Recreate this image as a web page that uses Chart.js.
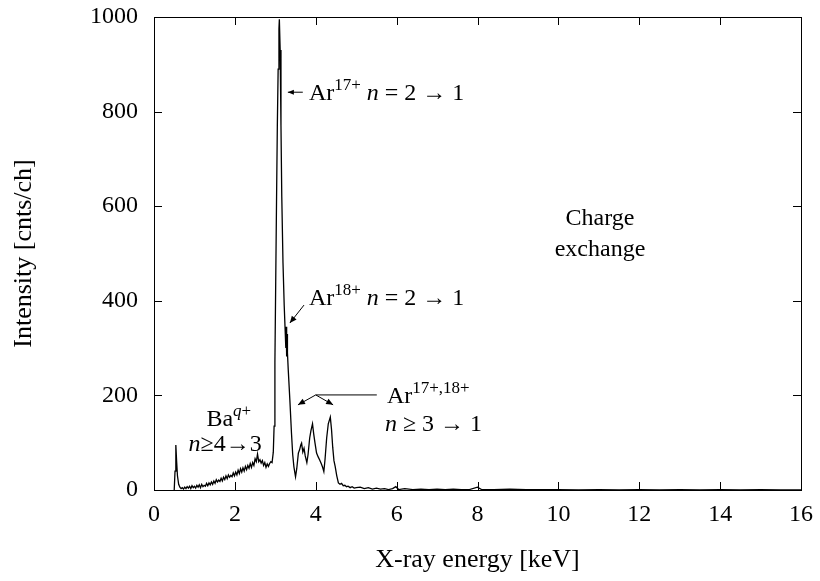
<!DOCTYPE html>
<html><head><meta charset="utf-8">
<script src="https://cdn.jsdelivr.net/npm/chart.js@4/dist/chart.umd.min.js"></script>
<style>html,body{margin:0;padding:0;background:#fff}</style>
</head><body>
<canvas id="c" width="820" height="581" style="display:block;width:820px;height:581px"></canvas>
<script>
// X-ray energy [keV]
const energyKeV = [
0.50,0.52,0.54,0.56,0.58,0.61,0.64,0.67,0.70,0.73,0.76,0.79,0.82,0.85,0.88,0.91,0.94,0.97,
1.00,1.03,1.06,1.09,1.12,1.15,1.18,1.21,1.24,1.27,1.30,1.33,1.36,1.39,1.42,1.45,1.48,
1.51,1.54,1.57,1.60,1.63,1.66,1.69,1.72,1.75,1.78,1.81,1.84,1.87,1.90,1.93,1.96,1.99,
2.02,2.05,2.08,2.11,2.14,2.17,2.20,2.23,2.26,2.29,2.32,2.35,2.38,2.41,2.44,2.47,2.50,
2.53,2.56,2.59,2.62,2.65,2.68,2.71,2.74,2.77,2.80,2.83,2.86,2.89,2.92,2.95,2.97,2.99,
3.01,3.03,3.05,3.07,3.09,3.10,3.12,3.14,3.16,3.19,3.22,3.24,3.26,3.27,3.28,3.29,3.30,
3.32,3.36,3.40,3.43,3.46,3.50,3.53,3.57,3.60,3.63,3.65,3.68,3.71,3.74,3.78,3.81,3.85,
3.88,3.92,3.95,3.98,4.02,4.06,4.10,4.14,4.17,4.20,4.23,4.27,4.31,4.36,4.39,4.42,4.45,
4.48,4.52,4.56,4.60,4.64,4.68,4.72,4.76,4.80,4.85,4.90,4.95,5.00,5.10,5.20,5.30,5.40,
5.50,5.60,5.70,5.80,5.90,5.98,6.05,6.20,6.40,6.60,6.80,7.00,7.20,7.40,7.60,7.80,8.00,
8.10,8.40,8.80,9.20,9.60,10.0,10.5,11.0,11.5,12.0,12.5,13.0,13.5,14.0,14.5,15.0,15.5,16.0
];
// Intensity [cnts/ch]
const intensity = [
0,40,95,60,30,12,6,3,5,2,6,3,7,4,8,3,9,5,
8,4,10,6,11,5,12,7,10,8,14,9,15,11,17,12,19,
14,22,17,21,18,25,19,27,22,30,24,32,27,31,28,36,30,
38,32,42,35,45,38,47,40,50,43,52,46,56,48,58,52,66,
60,76,60,64,57,62,52,58,48,55,50,56,60,58,80,135,270,
440,610,770,890,975,995,930,770,620,480,390,345,300,345,282,330,290,
254,190,120,75,49,28,45,78,85,95,99,80,88,72,58,75,110,
125,140,118,100,78,70,63,55,48,39,65,110,140,154,128,90,62,
50,30,15,12,14,9,10,7,8,5,7,4,5,6,3,5,2,
4,2,3,1,3,7,1,3,1,2,1,2,1,2,1,1,6,
1,1,2,1,1,1,0,1,0,1,0,1,0,1,0,1,0,0
];
const xTickValues = [0,2,4,6,8,10,12,14,16];
const yTickValues = [0,200,400,600,800,1000];

const FONT = "'Liberation Serif', 'Times New Roman', serif";
const points = energyKeV.map((e,i)=>({x:e, y:intensity[i]}));

const frameTicks = {
  id:'frameTicks',
  afterDraw(chart){
    const {ctx, chartArea:a, scales:{x,y}} = chart;
    ctx.save();
    ctx.strokeStyle='#000'; ctx.lineWidth=1;
    ctx.beginPath();
    ctx.rect(Math.round(a.left)+0.5, Math.round(a.top)+0.5, Math.round(a.right-a.left), Math.round(a.bottom-a.top));
    ctx.stroke();
    const L=8;
    ctx.beginPath();
    xTickValues.forEach(v=>{
      const px=Math.round(x.getPixelForValue(v))+0.5;
      ctx.moveTo(px,a.bottom); ctx.lineTo(px,a.bottom-L);
      ctx.moveTo(px,a.top); ctx.lineTo(px,a.top+L);
    });
    yTickValues.forEach(v=>{
      const py=Math.round(y.getPixelForValue(v))+0.5;
      ctx.moveTo(a.left,py); ctx.lineTo(a.left+L,py);
      ctx.moveTo(a.right,py); ctx.lineTo(a.right-L,py);
    });
    ctx.stroke();
    ctx.restore();
  }
};

function rich(ctx, x, yBase, parts, align){
  const MAIN=24, SUP=17;
  const fontOf=p=>(p.it?'italic ':'')+(p.sup?SUP:MAIN)+'px '+FONT;
  let w=0;
  parts.forEach(p=>{ctx.font=fontOf(p); w+=ctx.measureText(p.t).width;});
  let cx = align==='center'? x-w/2 : x;
  parts.forEach(p=>{
    ctx.font=fontOf(p);
    ctx.fillText(p.t, cx, p.sup? yBase-10 : yBase);
    cx+=ctx.measureText(p.t).width;
  });
}
function arrow(ctx,x1,y1,x2,y2,hl,hw){
  ctx.beginPath(); ctx.moveTo(x1,y1); ctx.lineTo(x2,y2); ctx.stroke();
  const ang=Math.atan2(y2-y1,x2-x1);
  ctx.beginPath();
  ctx.moveTo(x2,y2);
  ctx.lineTo(x2-hl*Math.cos(ang)+hw*Math.sin(ang), y2-hl*Math.sin(ang)-hw*Math.cos(ang));
  ctx.lineTo(x2-hl*Math.cos(ang)-hw*Math.sin(ang), y2-hl*Math.sin(ang)+hw*Math.cos(ang));
  ctx.closePath(); ctx.fill();
}

const annotations = {
  id:'annotations',
  afterDraw(chart){
    const {ctx, scales:{x,y}} = chart;
    const X=v=>x.getPixelForValue(v), Y=v=>y.getPixelForValue(v);
    ctx.save();
    ctx.fillStyle='#000'; ctx.strokeStyle='#000'; ctx.lineWidth=1;
    ctx.textBaseline='alphabetic'; ctx.textAlign='left';
    arrow(ctx, X(3.68), Y(841), X(3.31), Y(841), 6, 2.5);
    rich(ctx, X(3.83), Y(841)+8, [{t:'Ar'},{t:'17+',sup:1},{t:' '},{t:'n',it:1},{t:' = 2 → 1'}]);
    arrow(ctx, X(3.71), Y(391), X(3.36), Y(353), 7, 3);
    rich(ctx, X(3.83), Y(408)+8, [{t:'Ar'},{t:'18+',sup:1},{t:' '},{t:'n',it:1},{t:' = 2 → 1'}]);
    ctx.beginPath(); ctx.moveTo(X(4.00),Y(201)); ctx.lineTo(X(5.51),Y(201)); ctx.stroke();
    arrow(ctx, X(4.00), Y(201), X(3.56), Y(180), 7, 3);
    arrow(ctx, X(4.00), Y(201), X(4.43), Y(180), 7, 3);
    rich(ctx, X(5.76), Y(201)+8, [{t:'Ar'},{t:'17+,18+',sup:1}]);
    rich(ctx, X(5.71), Y(142)+8, [{t:'n',it:1},{t:' ≥ 3 → 1'}]);
    rich(ctx, X(1.85), Y(152)+8, [{t:'Ba'},{t:'q',sup:1,it:1},{t:'+',sup:1}], 'center');
    rich(ctx, X(1.76), Y(99)+8, [{t:'n',it:1},{t:'≥4→3'}], 'center');
    rich(ctx, X(11.03), Y(577)+8, [{t:'Charge'}], 'center');
    rich(ctx, X(11.03), Y(512)+8, [{t:'exchange'}], 'center');
    ctx.restore();
  }
};

new Chart(document.getElementById('c'), {
  type:'line',
  data:{datasets:[{data:points, borderColor:'#000', borderWidth:1.3, pointRadius:0, tension:0, fill:false}]},
  options:{
    responsive:false, animation:false, devicePixelRatio:1,
    layout:{padding:{top:17,right:19,left:0,bottom:0}},
    plugins:{legend:{display:false}, tooltip:{enabled:false}},
    scales:{
      x:{type:'linear', min:0, max:16,
        afterBuildTicks:s=>{s.ticks=xTickValues.map(v=>({value:v}));},
        afterFit:s=>{s.height=91; s.paddingLeft=0; s.paddingRight=0;},
        ticks:{color:'#000', font:{family:FONT,size:24}, padding:10, maxRotation:0, autoSkip:false, callback:v=>String(v)},
        grid:{display:true, drawOnChartArea:false, drawTicks:false},
        border:{display:true, color:'#000', width:1},
        title:{display:true, text:'X-ray energy [keV]', color:'#000', font:{family:FONT,size:26}, padding:{top:0,bottom:5}}
      },
      y:{type:'linear', min:0, max:1000,
        afterBuildTicks:s=>{s.ticks=yTickValues.map(v=>({value:v}));},
        afterFit:s=>{s.width=154; s.paddingTop=0; s.paddingBottom=0;},
        ticks:{color:'#000', font:{family:FONT,size:24}, padding:16, callback:v=>String(v)},
        grid:{display:true, drawOnChartArea:false, drawTicks:false},
        border:{display:true, color:'#000', width:1},
        title:{display:true, text:'Intensity [cnts/ch]', color:'#000', font:{family:FONT,size:26}, padding:{top:9,bottom:0}}
      }
    }
  },
  plugins:[frameTicks, annotations]
});
</script>
</body></html>
